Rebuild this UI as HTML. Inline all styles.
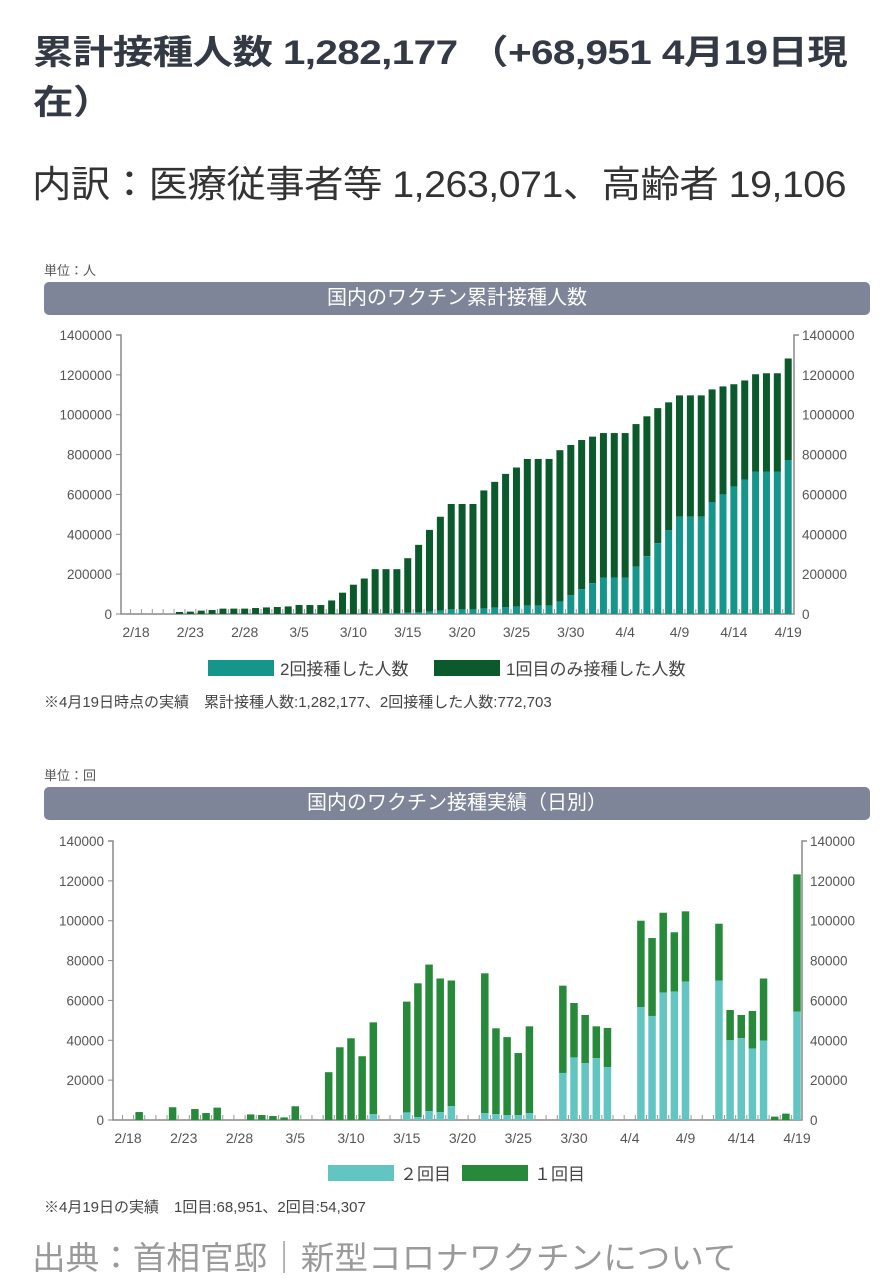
<!DOCTYPE html>
<html><head><meta charset="utf-8">
<style>
body{margin:0;width:884px;height:1280px;background:#fff;position:relative;overflow:hidden;font-family:"Liberation Sans","Noto Sans CJK JP",sans-serif;}
.abs{position:absolute;white-space:nowrap;}
#title{left:33px;top:28px;font-size:34px;font-weight:bold;color:#343a45;line-height:50px;letter-spacing:-0.5px;transform:scaleX(1.19);transform-origin:0 0;}
#sub{left:32px;top:154px;font-size:37px;color:#333;letter-spacing:-0.5px;transform:scaleX(1.065);transform-origin:0 0;}
.unit{font-size:13px;color:#555;}
.banner{left:44px;width:826px;height:33px;background:#7e8599;border-radius:5px;color:#fff;font-size:20px;text-align:center;line-height:33px;}
.note{font-size:15px;color:#444;}
#src{left:32px;top:1233px;font-size:32px;color:#9a9a9a;transform:scaleX(1.05);transform-origin:0 0;}
</style></head><body>
<div id="title" class="abs">累計接種人数 1,282,177 （+68,951 4月19日現<br>在）</div>
<div id="sub" class="abs">内訳：医療従事者等 1,263,071、高齢者 19,106</div>
<div class="abs unit" style="left:44px;top:260px">単位：人</div>
<div class="abs banner" style="top:282px">国内のワクチン累計接種人数</div>
<div class="abs unit" style="left:44px;top:765px">単位：回</div>
<div class="abs banner" style="top:787px">国内のワクチン接種実績（日別）</div>
<div class="abs note" style="left:44px;top:691px">※4月19日時点の実績　累計接種人数:1,282,177、2回接種した人数:772,703</div>
<div class="abs note" style="left:44px;top:1196px">※4月19日の実績　1回目:68,951、2回目:54,307</div>
<div id="src" class="abs">出典：首相官邸｜新型コロナワクチンについて</div>
<svg id="svg" class="abs" style="left:0;top:0" width="884" height="1280"></svg>
<script>
const days=["2/18","2/19","2/20","2/21","2/22","2/23","2/24","2/25","2/26","2/27","2/28","3/1","3/2","3/3","3/4","3/5","3/6","3/7","3/8","3/9","3/10","3/11","3/12","3/13","3/14","3/15","3/16","3/17","3/18","3/19","3/20","3/21","3/22","3/23","3/24","3/25","3/26","3/27","3/28","3/29","3/30","3/31","4/1","4/2","4/3","4/4","4/5","4/6","4/7","4/8","4/9","4/10","4/11","4/12","4/13","4/14","4/15","4/16","4/17","4/18","4/19"];
const xLabels=["2/18","2/23","2/28","3/5","3/10","3/15","3/20","3/25","3/30","4/4","4/9","4/14","4/19"];
const yTicks1=[0,200000,400000,600000,800000,1000000,1200000,1400000];
const yTicks2=[0,20000,40000,60000,80000,100000,120000,140000];
// chart 1: cumulative totals and cumulative 2nd dose
const cumTotal=[0,0,0,0,10000,12000,17000,20000,27000,27000,27000,30000,33000,35000,38000,45000,45000,45000,68000,107000,147000,178000,225000,225000,225000,280000,347000,422000,488000,552000,552000,552000,620000,663000,703000,735000,778000,778000,778000,822000,848000,873000,890000,908000,908000,908000,953000,992000,1033000,1062000,1097000,1097000,1097000,1127000,1142000,1153000,1172000,1203000,1208000,1208000,1282177];
const cumSecond=[0,0,0,0,0,0,0,0,0,0,0,0,0,0,0,0,0,0,0,0,0,0,3000,3000,3000,6000,8000,12000,16000,23000,23000,23000,28000,32000,35000,37000,42000,42000,42000,63000,95000,125000,155000,183000,183000,183000,238000,290000,355000,420000,488000,488000,488000,560000,600000,640000,675000,715000,715000,715000,772703];
// chart 2: daily totals and 2nd dose
const dayTotal=[0,4000,0,0,6400,0,5500,3500,6200,0,0,2800,2500,2000,1300,6900,0,0,24000,36500,41000,32000,49000,0,0,59400,68600,78000,71000,70000,0,0,73600,46000,41600,33600,47000,0,0,67400,58700,52700,47000,46200,0,0,100000,91300,104000,94200,104700,0,0,98500,55200,52700,54700,71000,1700,3200,123258];
const daySecond=[0,0,0,0,0,0,0,0,0,0,0,0,0,0,0,0,0,0,0,0,0,0,3000,0,0,3800,1500,4500,4000,7000,0,0,3500,3000,2500,2500,3500,0,0,23600,31400,28600,31000,26600,0,0,56700,52200,64000,64400,69400,0,0,70000,40000,41100,35800,39800,0,0,54307];
const NS="http://www.w3.org/2000/svg";
const svg=document.getElementById('svg');
function mk(tag,attrs,parent){const e=document.createElementNS(NS,tag);for(const k in attrs)e.setAttribute(k,attrs[k]);(parent||svg).appendChild(e);return e;}
function chart(cfg){
  const g=mk('g',{});
  
  
  const X=i=>cfg.x0+cfg.dx*i;
  const Y=v=>cfg.yb-(v/cfg.ymax)*(cfg.yb-cfg.yt);
  mk('path',{d:`M${cfg.ax0-5} ${cfg.yt}H${cfg.ax0}V${cfg.yb}H${cfg.ax1}V${cfg.yt}H${cfg.ax1+5}`,fill:'none',stroke:'#888','stroke-width':1.5},g);
  cfg.yTicks.forEach(t=>{
    const y=Y(t);
    const tk=mk('line',{x1:cfg.ax0-5,x2:cfg.ax0,y1:y,y2:y,stroke:'#888'},g);
    
    
    const l=mk('text',{x:cfg.ax0-9,y:y+5,'text-anchor':'end','font-size':13.5,fill:'#555'},g);l.textContent=t;
    
    
    const r=mk('text',{x:cfg.ax1+8,y:y+5,'font-size':13.5,fill:'#555'},g);r.textContent=t;
    
    
  });
  days.forEach((d,i)=>{
    mk('line',{x1:X(i)-cfg.dx/2,x2:X(i)-cfg.dx/2,y1:cfg.yb-5,y2:cfg.yb,stroke:'#999'},g);
    const tot=cfg.total[i],sec=cfg.second[i];
    if(tot>0){
      const b=mk('rect',{x:X(i)-cfg.bw/2,y:Y(tot),width:cfg.bw,height:Y(sec)-Y(tot),fill:cfg.c1},g);
      
      
    }
    if(sec>0){
      const b=mk('rect',{x:X(i)-cfg.bw/2,y:Y(sec),width:cfg.bw,height:cfg.yb-Y(sec),fill:cfg.c2},g);
      
      
    }
    if(xLabels.includes(d)){
      const t=mk('text',{x:X(i),y:cfg.yb+23,'text-anchor':'middle','font-size':14,fill:'#555'},g);t.textContent=d;
      
      
    }
  });
  const ly=cfg.legY;
  mk('rect',{x:cfg.lx1,y:ly-8,width:66,height:16,fill:cfg.c2},g);
  const t1=mk('text',{x:cfg.lx1+72,y:ly+7,'font-size':17,fill:'#444'},g);t1.textContent=cfg.l2;
  
  
  mk('rect',{x:cfg.lx2,y:ly-8,width:66,height:16,fill:cfg.c1},g);
  const t2=mk('text',{x:cfg.lx2+72,y:ly+7,'font-size':17,fill:'#444'},g);t2.textContent=cfg.l1;
  
  
}
chart({name:'cumulative-chart',x0:136,dx:10.87,bw:7,yt:335,yb:614,ymax:1400000,ax0:121,ax1:794,yTicks:yTicks1,total:cumTotal,second:cumSecond,c1:'#0b5a2b',c2:'#14968d',legY:668,lx1:208,lx2:434,l2:'2回接種した人数',l1:'1回目のみ接種した人数'});
chart({name:'daily-chart',x0:128,dx:11.15,bw:7.5,yt:841,yb:1120,ymax:140000,ax0:113,ax1:802,yTicks:yTicks2,total:dayTotal,second:daySecond,c1:'#268a3a',c2:'#62c5c1',legY:1173,lx1:328,lx2:462,l2:'２回目',l1:'１回目'});
</script>
</body></html>
